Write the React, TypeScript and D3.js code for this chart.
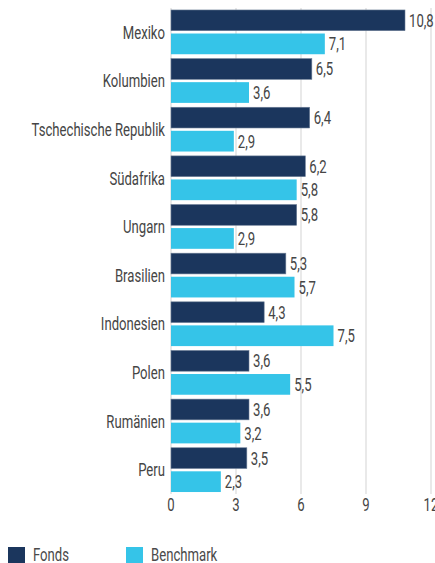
import { useEffect, useRef } from 'react';
import * as d3 from 'd3';

const COUNTRIES = ['Mexiko', 'Kolumbien', 'Tschechische Republik', 'Südafrika', 'Ungarn', 'Brasilien', 'Indonesien', 'Polen', 'Rumänien', 'Peru'];
const FONDS = [10.8, 6.5, 6.4, 6.2, 5.8, 5.3, 4.3, 3.6, 3.6, 3.5];
const BENCHMARK = [7.1, 3.6, 2.9, 5.8, 2.9, 5.7, 7.5, 5.5, 3.2, 2.3];
const TICKS = [0, 3, 6, 9, 12];
const SERIES = [
  { key: 'Fonds', values: FONDS, color: '#1b365d' },
  { key: 'Benchmark', values: BENCHMARK, color: '#35c4e8' },
];

const W = 435;
const H = 563;
const FONT = 'Roboto, "Noto Sans", sans-serif';
const SQUEEZE = 0.73; // condensed look

export default function App() {
  const svgRef = useRef<SVGSVGElement>(null);

  useEffect(() => {
    const svg = d3.select(svgRef.current);
    svg.selectAll('*').remove();

    const x = d3.scaleLinear().domain([0, 12]).range([171, 431]);
    const y = d3.scaleBand().domain(COUNTRIES).range([9, 493]).paddingInner(0.09).paddingOuter(0.02);
    const sub = d3.scaleBand().domain(SERIES.map((s) => s.key)).range([0, y.bandwidth()]).paddingInner(0.12);

    // narrow text helper
    const label = (g: any, tx: number, ty: number, txt: string, anchor = 'start', size = 18, fill = '#454545') =>
      g.append('text')
        .attr('transform', `translate(${tx},${ty}) scale(${SQUEEZE},1)`)
        .attr('dy', '0.36em')
        .attr('text-anchor', anchor)
        .attr('font-family', FONT)
        .attr('font-weight', 400)
        .attr('font-size', size)
        .attr('fill', fill)
        .text(txt);

    // grid
    svg.append('g')
      .selectAll('line')
      .data(TICKS)
      .join('line')
      .attr('x1', (d) => x(d))
      .attr('x2', (d) => x(d))
      .attr('y1', 8)
      .attr('y2', 494)
      .attr('stroke', '#e9e9e9')
      .attr('stroke-width', 2);

    // bars
    SERIES.forEach((s, si) => {
      const g = svg.append('g');
      g.selectAll('rect')
        .data(COUNTRIES)
        .join('rect')
        .attr('x', x(0))
        .attr('y', (c) => y(c)! + sub(s.key)!)
        .attr('width', (c, i) => x(s.values[i]) - x(0))
        .attr('height', sub.bandwidth())
        .attr('fill', s.color)
        .attr('stroke', si === 0 ? '#6b7d96' : 'none')
        .attr('stroke-width', 0.6);
      COUNTRIES.forEach((c, i) => {
        label(g, x(s.values[i]) + 4, y(c)! + sub(s.key)! + sub.bandwidth() / 2, String(s.values[i]).replace('.', ','));
      });
    });

    // category labels
    const cats = svg.append('g');
    COUNTRIES.forEach((c) => label(cats, 165, y(c)! + y.bandwidth() / 2, c, 'end'));

    // x tick labels
    const ticks = svg.append('g');
    TICKS.forEach((t) => label(ticks, x(t), 505, String(t), 'middle'));

    // legend
    const legend = svg.append('g');
    SERIES.forEach((s, i) => {
      const lx = 8 + i * 118;
      legend.append('rect').attr('x', lx).attr('y', 547).attr('width', 17).attr('height', 16).attr('fill', s.color);
      label(legend, lx + 25, 555, s.key, 'start', 18, '#4a4a4a');
    });
  }, []);

  return (
    <svg
      ref={svgRef}
      width={W}
      height={H}
      style={{ position: 'absolute', left: 0, top: 0, background: '#fff' }}
    />
  );
}
